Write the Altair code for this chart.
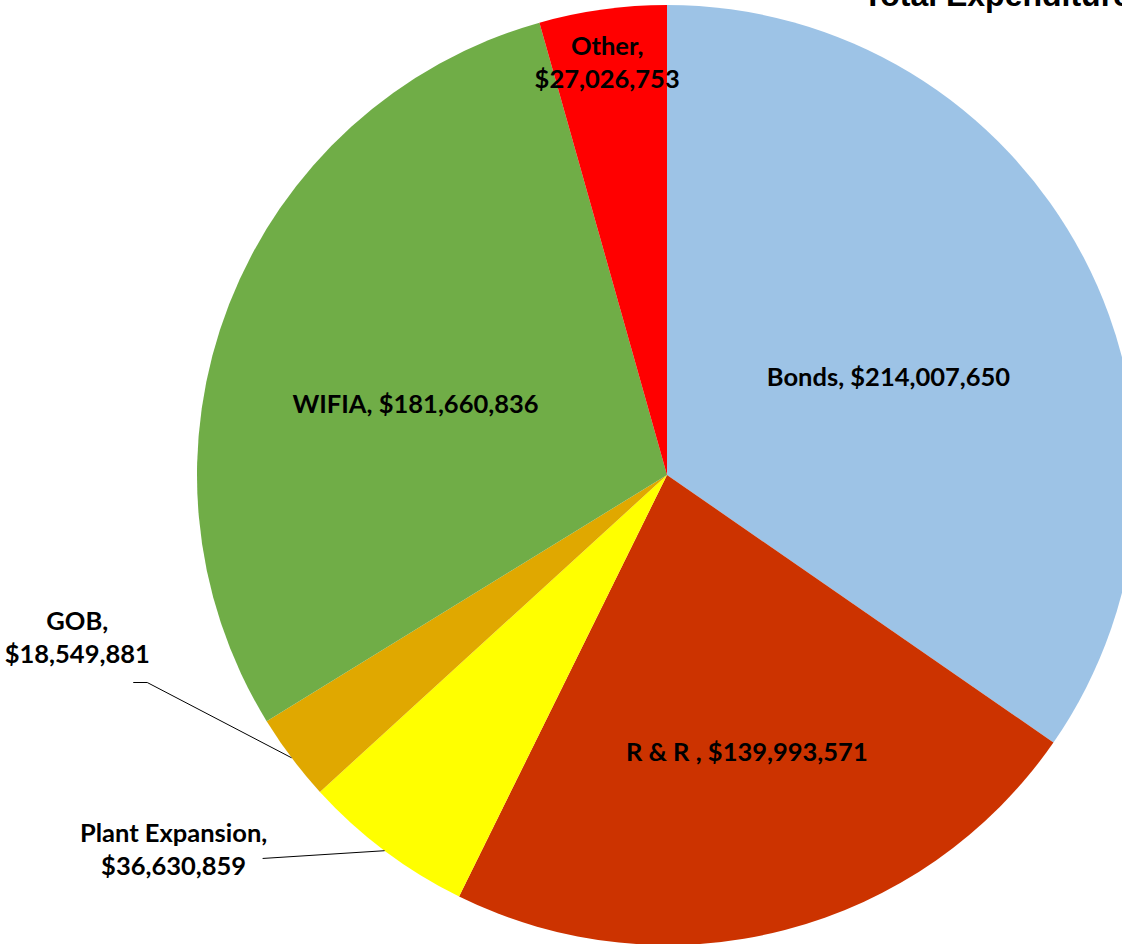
import math
import altair as alt
import pandas as pd

# ---- data ----
categories = ["Bonds", "R & R ", "Plant Expansion", "GOB", "WIFIA", "Other"]
values = [214007650, 139993571, 36630859, 18549881, 181660836, 27026753]
colors = ["#9DC3E6", "#CC3300", "#FFFF00", "#E0A800", "#70AD47", "#FF0000"]
title_text = ["Total Expenditures"]

# ---- layout (styling / placement, not data) ----
W, H = 1122, 944
CX, CY, R = 667, 475, 470
FONT = "Lato"
FS = 25.5
LINE_H = 33
# label placement relative to each slice's mid-angle: (angle shift deg, radius px, two-line?)
label_layout = {
    "Bonds": (3.9, 242, False),
    "R & R ": (-1.5, 289, False),
    "Plant Expansion": (15.8, 620, True),
    "GOB": (21.5, 612, True),
    "WIFIA": (-5.8, 261, False),
    "Other": (-0.4, 416, True),
}
# leader lines: start offset from label centre (dx, dy), optional elbow length
leader_layout = {
    "GOB": (56, 44, 14),
    "Plant Expansion": (89, 8, 0),
}

total = sum(values)
rows, lab_rows, line_rows = [], [], []
cum = 0.0
for i, (c, v) in enumerate(zip(categories, values)):
    rows.append({"category": c, "value": v, "idx": i})
    mid = (cum + v / 2) / total * 360.0
    cum += v
    da, rr, two = label_layout[c]
    a = math.radians(mid + da)
    lx = CX + rr * math.sin(a)
    ly = CY - rr * math.cos(a)
    txt = f"{c}, ${v:,.0f}"
    ty = ly
    if two:
        txt = f"{c},\n${v:,.0f}"
        ty = ly - LINE_H / 2  # first line sits at the anchor
    lab_rows.append({"label": txt, "lx": lx, "ly": ty})
    if c in leader_layout:
        ox, oy, elbow = leader_layout[c]
        am = math.radians(mid)
        ex, ey = CX + R * math.sin(am), CY - R * math.cos(am)
        pts = [(lx + ox, ly + oy)]
        if elbow:
            pts.append((lx + ox + elbow, ly + oy))
        pts.append((ex, ey))
        for k, (px, py) in enumerate(pts):
            line_rows.append({"g": c, "seq": k, "px": px, "py": py})

df = pd.DataFrame(rows)
labels = pd.DataFrame(lab_rows)
leaders = pd.DataFrame(line_rows)
tdf = pd.DataFrame({"t": title_text})

arcs = alt.Chart(df).mark_arc(radius=R, strokeWidth=0).encode(
    theta=alt.Theta("value:Q", stack=True),
    order=alt.Order("idx:Q", sort="ascending"),
    color=alt.Color("category:N", scale=alt.Scale(domain=categories, range=colors), legend=None),
    x=alt.value(CX),
    y=alt.value(CY),
)

lines = alt.Chart(leaders).mark_line(color="black", strokeWidth=1).encode(
    x=alt.X("px:Q", scale=None, axis=None),
    y=alt.Y("py:Q", scale=None, axis=None),
    detail="g:N",
    order="seq:Q",
)

texts = alt.Chart(labels).mark_text(
    font=FONT, fontWeight="bold", fontSize=FS, lineBreak="\n", lineHeight=LINE_H,
    align="center", baseline="middle", color="black",
).encode(
    x=alt.X("lx:Q", scale=None, axis=None),
    y=alt.Y("ly:Q", scale=None, axis=None),
    text="label:N",
)

title = alt.Chart(tdf).mark_text(
    font="Liberation Sans", fontWeight="bold", fontSize=32, align="left",
    baseline="alphabetic", color="black",
).encode(x=alt.value(863), y=alt.value(6), text="t:N")

chart = alt.layer(arcs, lines, texts, title).properties(
    width=W, height=H, padding=0,
    autosize=alt.AutoSizeParams(type="none"),
    background="white",
).configure_view(stroke=None)

chart.save("out.html", embed_options={"renderer": "svg", "actions": False})
